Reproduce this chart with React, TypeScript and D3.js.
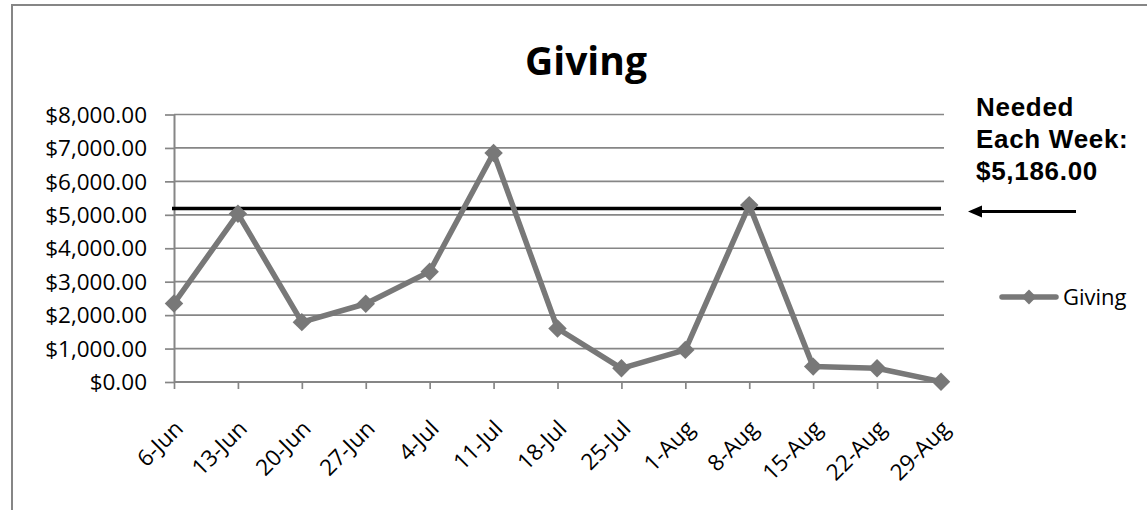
import React, { useEffect, useRef } from "react";
import * as d3 from "d3";

const weeks = [
  "6-Jun", "13-Jun", "20-Jun", "27-Jun", "4-Jul", "11-Jul", "18-Jul",
  "25-Jul", "1-Aug", "8-Aug", "15-Aug", "22-Aug", "29-Aug",
];
const giving = [2350, 5030, 1790, 2340, 3300, 6850, 1600, 410, 960, 5290, 460, 410, 10];
const neededEachWeek = 5186;
const noteLines = ["Needed", "Each Week:", "$5,186.00"];
const yTicks = [0, 1000, 2000, 3000, 4000, 5000, 6000, 7000, 8000];

const App = () => {
  const ref = useRef<SVGSVGElement>(null);

  useEffect(() => {
    const width = 1147;
    const height = 510;
    const svg = d3.select(ref.current);
    svg.selectAll("*").remove();
    svg.attr("width", width).attr("height", height);

    const grey = "#868686";
    const seriesGrey = "#787878";
    const font = "'Open Sans', sans-serif";

    // chart border
    svg.append("rect")
      .attr("x", 12).attr("y", 5)
      .attr("width", 1160).attr("height", 540)
      .attr("fill", "white").attr("stroke", grey).attr("stroke-width", 2);

    const left = 174, right = 941, top = 114.5, bottom = 382;

    const x = d3.scalePoint().domain(weeks).range([left, right]);
    const y = d3.scaleLinear().domain([0, 8000]).range([bottom, top]);

    // gridlines
    svg.append("g").selectAll("line")
      .data(yTicks.filter(d => d > 0))
      .enter().append("line")
      .attr("x1", left).attr("x2", 944)
      .attr("y1", d => y(d)).attr("y2", d => y(d))
      .attr("stroke", grey).attr("stroke-width", 1.7);

    const money = (d: number) => "$" + d3.format(",.2f")(d);

    const yAxis = svg.append("g")
      .attr("transform", `translate(${left},0)`)
      .call(d3.axisLeft(y).tickValues(yTicks).tickSize(9).tickSizeOuter(0).tickPadding(18).tickFormat(d => money(+d)));
    yAxis.select(".domain").attr("stroke", grey).attr("stroke-width", 2);
    yAxis.selectAll(".tick line").attr("stroke", grey).attr("stroke-width", 1.7);
    yAxis.selectAll("text")
      .attr("font-family", font).attr("font-size", 22.5).attr("fill", "#000")
      .attr("dy", "0.34em");

    const xAxis = svg.append("g")
      .attr("transform", `translate(0,${bottom})`)
      .call(d3.axisBottom(x).tickSize(7).tickSizeOuter(0));
    xAxis.select(".domain").attr("d", `M${left},0H944`).attr("stroke", grey).attr("stroke-width", 2);
    xAxis.selectAll(".tick line").attr("stroke", grey).attr("stroke-width", 1.7);
    xAxis.selectAll("text")
      .attr("font-family", font).attr("font-size", 22.5).attr("fill", "#000")
      .attr("text-anchor", "end")
      .attr("y", 0).attr("dy", 0)
      .attr("transform", "translate(10,48) rotate(-45)");

    // needed line
    svg.append("line")
      .attr("x1", left - 2).attr("x2", right)
      .attr("y1", y(neededEachWeek)).attr("y2", y(neededEachWeek))
      .attr("stroke", "#000").attr("stroke-width", 3.5);

    const data = weeks.map((w, i) => ({ w, v: giving[i] }));
    const line = d3.line<{ w: string; v: number }>()
      .x(d => x(d.w) as number)
      .y(d => y(d.v));

    svg.append("path")
      .datum(data)
      .attr("d", line)
      .attr("fill", "none")
      .attr("stroke", seriesGrey)
      .attr("stroke-width", 5.5)
      .attr("stroke-linejoin", "round");

    const diamond = d3.symbol().type(d3.symbolSquare).size(170);
    svg.append("g").selectAll("path")
      .data(data)
      .enter().append("path")
      .attr("d", diamond)
      .attr("transform", d => `translate(${x(d.w)},${y(d.v)}) rotate(45)`)
      .attr("fill", seriesGrey);

    // title
    svg.append("text")
      .attr("x", 586).attr("y", 75)
      .attr("text-anchor", "middle")
      .attr("font-family", font).attr("font-weight", 700).attr("font-size", 39)
      .text("Giving");

    // annotation
    svg.append("g").selectAll("text")
      .data(noteLines)
      .enter().append("text")
      .attr("x", 976).attr("y", (d, i) => 116 + i * 32)
      .attr("font-family", "'Liberation Sans', Arial, sans-serif")
      .attr("font-weight", 700).attr("font-size", 26)
      .attr("letter-spacing", 0.7)
      .text(d => d);

    const ay = 211.5;
    svg.append("line")
      .attr("x1", 978).attr("x2", 1076)
      .attr("y1", ay).attr("y2", ay)
      .attr("stroke", "#000").attr("stroke-width", 3);
    svg.append("path")
      .attr("d", `M968,${ay}L982,${ay - 6}L982,${ay + 6}Z`)
      .attr("fill", "#000");

    // legend
    const ly = 297;
    svg.append("line")
      .attr("x1", 1002).attr("x2", 1056)
      .attr("y1", ly).attr("y2", ly)
      .attr("stroke", seriesGrey).attr("stroke-width", 5.5).attr("stroke-linecap", "round");
    svg.append("path")
      .attr("d", d3.symbol().type(d3.symbolSquare).size(110)())
      .attr("transform", `translate(1029,${ly}) rotate(45)`)
      .attr("fill", seriesGrey);
    svg.append("text")
      .attr("x", 1063).attr("y", ly + 8)
      .attr("font-family", font).attr("font-size", 22)
      .text("Giving");
  }, []);

  return (
    <svg ref={ref} style={{ position: "absolute", left: 0, top: 0, display: "block" }} />
  );
};

export default App;
